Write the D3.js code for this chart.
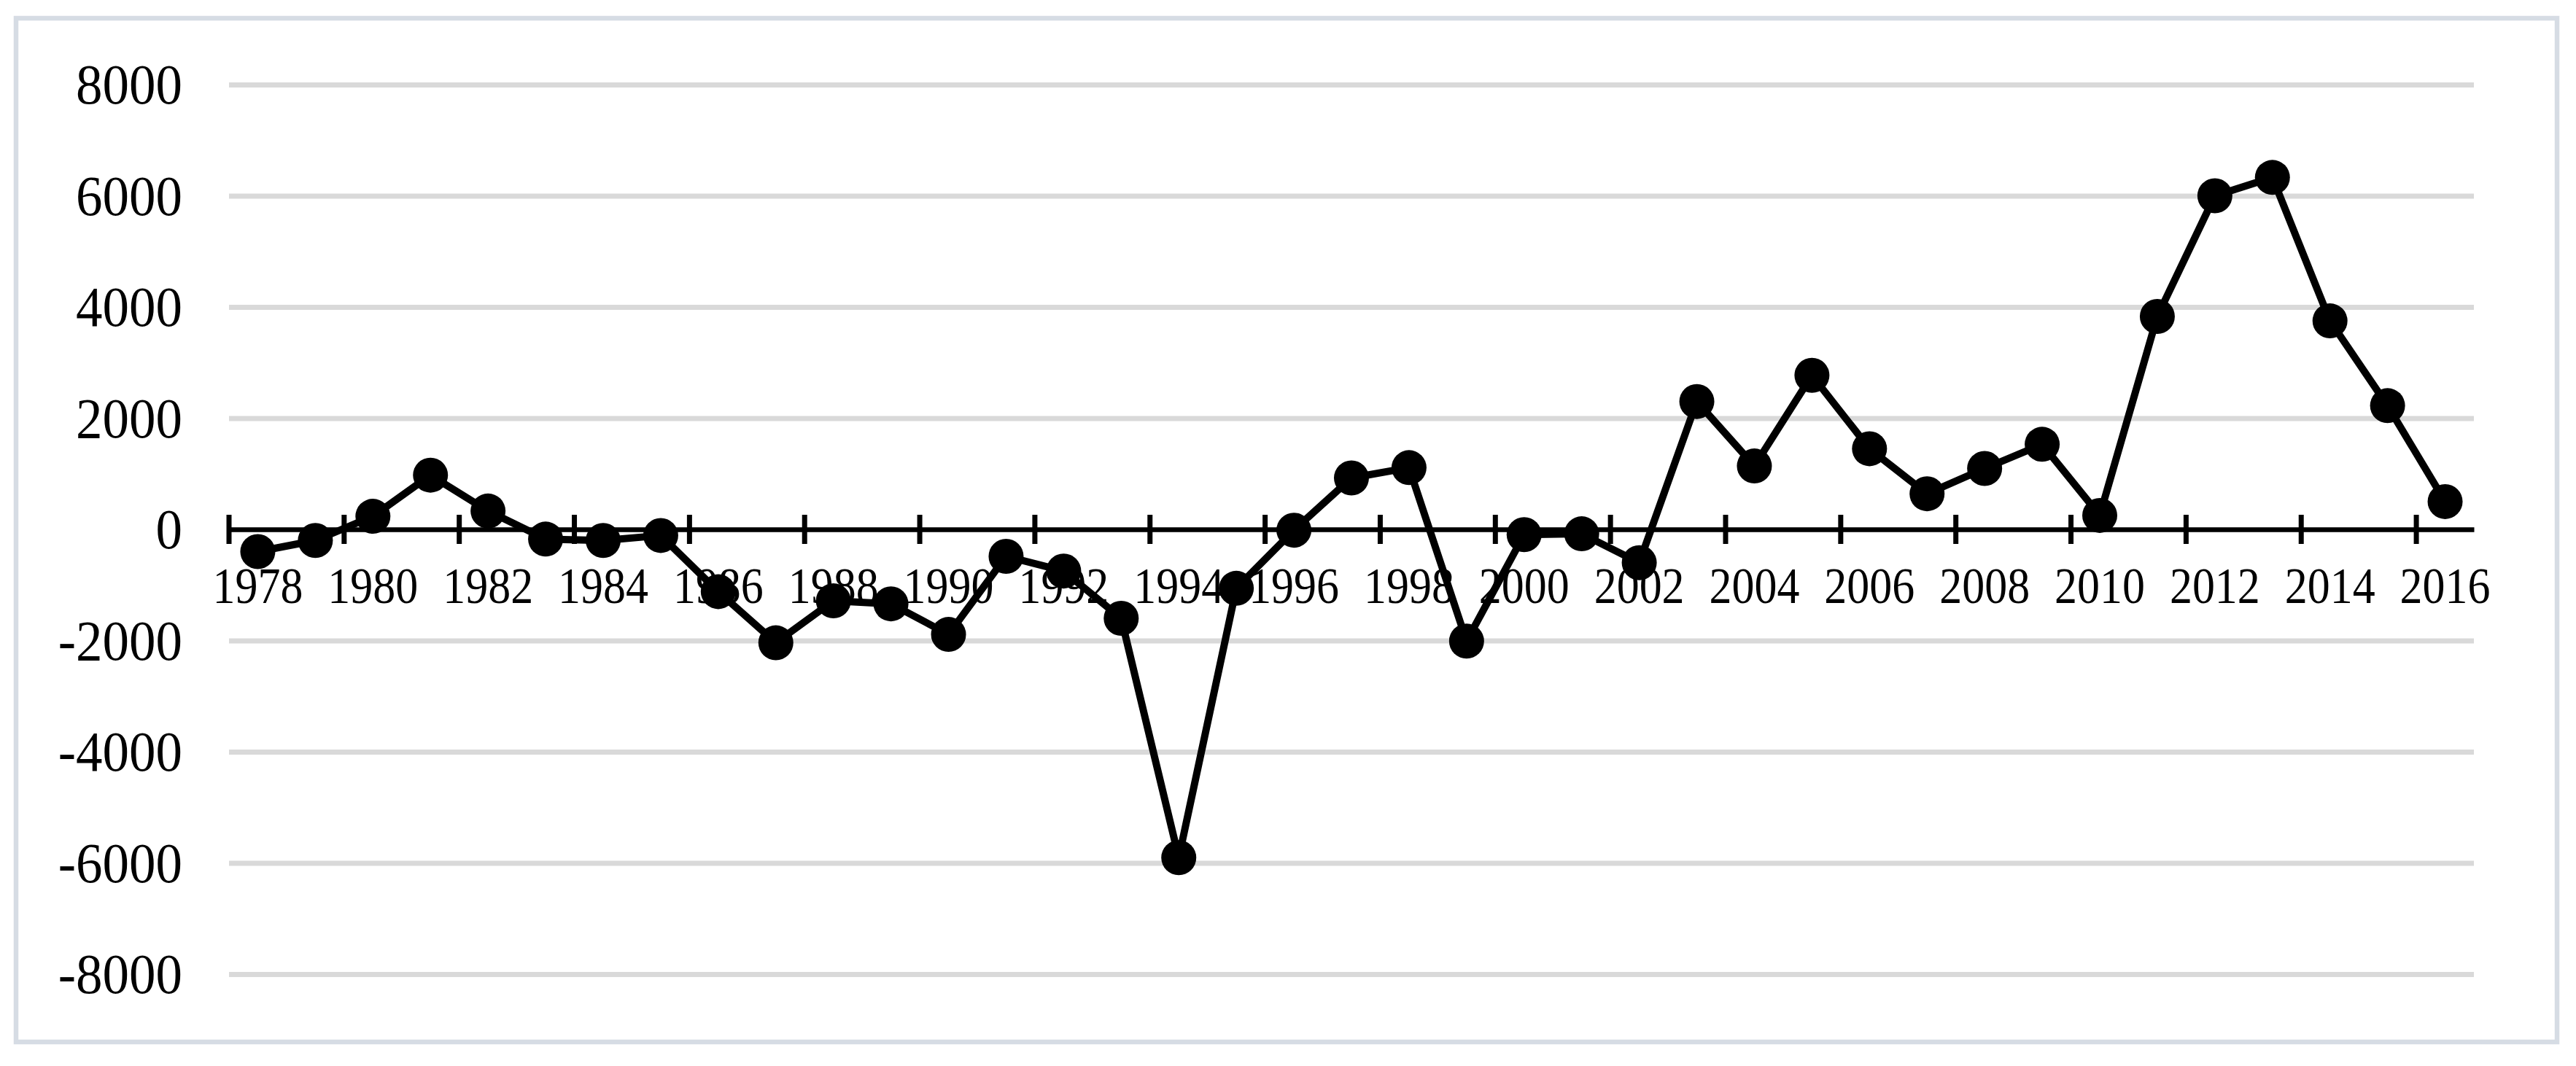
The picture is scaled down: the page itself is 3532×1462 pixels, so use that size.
<!DOCTYPE html>
<html>
<head>
<meta charset="utf-8">
<script src="https://cdn.jsdelivr.net/npm/d3@7"></script>
<style>
    html, body { margin: 0; padding: 0; background: #fff; }
    svg { display: block; }
    text { font-family: "Liberation Serif", "Times New Roman", serif; fill: #000; }
</style>
</head>
<body>
<script>
// data
var years = d3.range(1978, 2017);
var values = [
    -400, -200, 235, 975, 330, -175, -200, -110, -1120, -2040,
    -1285, -1340, -1890, -485, -750, -1600, -5905, -1060, -15, 925,
    1110, -2010, -95, -80, -600, 2300, 1140, 2770, 1450, 640,
    1095, 1530, 250, 3830, 6000, 6330, 3750, 2225, 500
];
var yTicks = [-8000, -6000, -4000, -2000, 0, 2000, 4000, 6000, 8000];
var xLabels = years.filter(function(y){ return y % 2 === 0; });

var W = 3532, H = 1462;
// plot box (note: "top" is reserved on window, so use prefixed names)
var plotL = 314, plotR = 3392, plotT = 116, plotB = 1336;

var svg = d3.select('body').append('svg')
    .attr('width', W)
    .attr('height', H);

svg.append('rect')
    .attr('width', W).attr('height', H)
    .attr('fill', '#fff');

// chart border
svg.append('rect')
    .attr('x', 22).attr('y', 25)
    .attr('width', 3484).attr('height', 1404)
    .attr('fill', 'none')
    .attr('stroke', '#d6dce4')
    .attr('stroke-width', 6.5);

var x = d3.scaleBand().domain(years).range([plotL, plotR]).padding(0);
var y = d3.scaleLinear().domain([-8000, 8000]).range([plotB, plotT]);

// shrink text horizontally, the reference font is a bit condensed
var squeeze = function(sel, sx){
    sel.each(function(){
        var w = this.getComputedTextLength();
        d3.select(this).attr('textLength', w * sx).attr('lengthAdjust', 'spacingAndGlyphs');
    });
};

// y axis with gridlines, plain hyphen for negatives
var yAxis = svg.append('g')
    .attr('transform', 'translate(' + plotL + ',0)')
    .call(d3.axisLeft(y).tickValues(yTicks).tickFormat(function(d){ return String(d); })
        .tickSize(-(plotR - plotL)).tickPadding(64));
yAxis.select('.domain').remove();
yAxis.selectAll('.tick line')
    .attr('stroke', '#d9d9d9')
    .attr('stroke-width', 7);
yAxis.selectAll('.tick text')
    .attr('font-size', 78)
    .attr('dy', '0.33em')
    .call(squeeze, 0.936);

// x axis on the zero line
var zero = y(0);
var xAxis = svg.append('g')
    .attr('transform', 'translate(0,' + zero + ')')
    .call(d3.axisBottom(x).tickValues(xLabels).tickSize(0).tickPadding(0));
xAxis.select('.domain')
    .attr('stroke', '#000')
    .attr('stroke-width', 6.5);
xAxis.selectAll('.tick text')
    .attr('font-size', 70)
    .attr('y', 101)
    .attr('dy', 0)
    .call(squeeze, 0.885);

// cross ticks at the start of every second category
xAxis.selectAll('line.xtick')
    .data(xLabels)
    .enter().append('line')
    .attr('class', 'xtick')
    .attr('x1', function(d){ return x(d); })
    .attr('x2', function(d){ return x(d); })
    .attr('y1', -20).attr('y2', 20)
    .attr('stroke', '#000')
    .attr('stroke-width', 7);

// series
var pts = years.map(function(yr, i){ return { year: yr, value: values[i] }; });
var cx = function(d){ return x(d.year) + x.bandwidth() / 2; };

svg.append('path')
    .datum(pts)
    .attr('fill', 'none')
    .attr('stroke', '#000')
    .attr('stroke-width', 10)
    .attr('stroke-linejoin', 'round')
    .attr('d', d3.line().x(cx).y(function(d){ return y(d.value); }));

svg.append('g').selectAll('circle')
    .data(pts)
    .enter().append('circle')
    .attr('cx', cx)
    .attr('cy', function(d){ return y(d.value); })
    .attr('r', 24)
    .attr('fill', '#000');
</script>
</body>
</html>
